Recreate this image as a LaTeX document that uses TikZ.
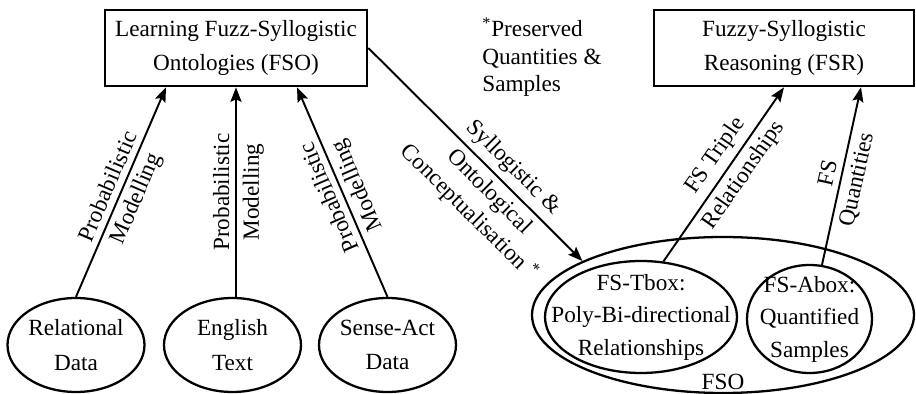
\documentclass[tikz,border=0pt]{standalone}
\usepackage{fontspec}
\setmainfont{Liberation Serif}
\usepackage{tikz}
\usetikzlibrary{positioning,shapes.geometric,arrows.meta}
\tikzset{
  boxnode/.style={draw,line width=1.5pt,minimum width=5.24cm,minimum height=1.52cm,
    font=\fontsize{13.2}{19}\selectfont,align=center,inner sep=2pt},
  srcnode/.style={draw,ellipse,line width=1.3pt,minimum width=2.74cm,minimum height=1.88cm,
    font=\fontsize{13.2}{19.5}\selectfont,align=center,inner sep=0pt},
  setnode/.style={draw,ellipse,line width=1.3pt,
    font=\fontsize{13.2}{18.5}\selectfont,align=center,inner sep=-1cm},
  notenode/.style={font=\fontsize{13.2}{15.6}\selectfont,align=left,inner sep=0pt},
  lblnode/.style={font=\fontsize{13.2}{16.5}\selectfont,align=center,sloped,inner sep=3.3pt},
  flow/.style={line width=1.1pt,-{Stealth[length=2.9mm,width=2.2mm,inset=0.5mm]}},
}

\begin{document}
\begin{tikzpicture}[font=\fontsize{13.2}{19}\selectfont]
  \useasboundingbox (0,0) rectangle (18.32,7.88);
  % Top boxes
  \node[boxnode] (fso) at (4.72,6.92) {Learning Fuzz-Syllogistic\\Ontologies (FSO)};
  \node[boxnode,minimum width=5.2cm] (fsr) at (15.68,6.92) {Fuzzy-Syllogistic\\Reasoning (FSR)};
  \node[notenode,anchor=north west] (note) at (9.64,7.52) {\textsuperscript{*}Preserved\\Quantities \&\\Samples};
  % Data sources
  \node[srcnode] (rel) at (1.52,0.98) {Relational\\Data};
  \node[srcnode] (eng) at (4.65,0.98) {English\\Text};
  \node[srcnode] (sen) at (7.75,0.98) {Sense-Act\\Data};
  % FSO sets
  \node[setnode,minimum width=7.64cm,minimum height=3.12cm] (fsoset) at (14.46,1.58) {};
  \node (fsolbl) at (14.46,0.25) {FSO};
  \node[setnode,minimum width=3.84cm,minimum height=2.24cm] (tbox) at (12.82,1.54) {FS-Tbox:\\Poly-Bi-directional\\Relationships};
  \node[setnode,minimum width=2.5cm,minimum height=2.16cm] (abox) at (16.19,1.5) {FS-Abox:\\Quantified\\Samples};
  % Learning arrows
  \draw[flow] (rel.north) -- node[lblnode,above] (l1a) {Probabilistic} node[lblnode,below] (l1b) {Modelling} ([xshift=-1.4cm]fso.south);
  \draw[flow] (fso.south |- eng.north) -- node[lblnode,above] (l2a) {Probabilistic} node[lblnode,below] (l2b) {Modelling} (fso.south);
  \draw[flow] (sen.north) -- node[lblnode,above,allow upside down] (l3a) {Probabilistic} node[lblnode,below,allow upside down] (l3b) {Modelling} ([xshift=1.22cm]fso.south);
  % Conceptualisation
  \draw[flow] (fso.east) -- node[lblnode,above,pos=0.62] (l4a) {Syllogistic \&} node[lblnode,below,pos=0.62] (l4b) {Ontological\\Conceptualisation \textsuperscript{*}} (fsoset.159);
  % Reasoning arrows
  \draw[flow] (tbox.68) -- node[lblnode,above,pos=0.55] (l5a) {FS Triple} node[lblnode,below,pos=0.55] (l5b) {Relationships} (fsr.south);
  \draw[flow] (abox.77) -- node[lblnode,above] (l6a) {FS} node[lblnode,below] (l6b) {Quantities} ([xshift=1.54cm]fsr.south);
\end{tikzpicture}
\end{document}
